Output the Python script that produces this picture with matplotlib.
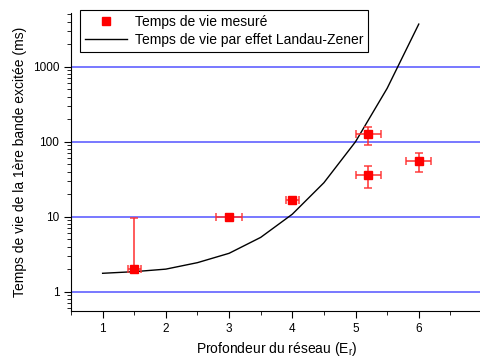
import numpy as np
import matplotlib.pyplot as plt
import matplotlib as mpl

mpl.rcParams.update({
    "font.family": ["Liberation Sans", "DejaVu Sans"],
    "mathtext.fontset": "custom",
    "mathtext.rm": "Liberation Sans",
    "font.size": 9,
})

# ---------- data ----------
depth_meas = [1.5, 3.0, 4.0, 5.2, 5.2, 6.0]
life_meas = [2.0, 10.0, 16.7, 125.0, 36.0, 55.0]
life_err_low = [0.1, 0.8, 1.0, 35.0, 12.0, 16.0]
life_err_high = [7.5, 0.8, 1.0, 30.0, 12.0, 15.0]
depth_err = [0.1, 0.2, 0.1, 0.2, 0.2, 0.2]

depth_lz = [1.0, 1.5, 2.0, 2.5, 3.0, 3.5, 4.0, 4.5, 5.0, 5.5, 6.0]
life_lz = [1.76, 1.85, 2.0, 2.44, 3.25, 5.3, 10.8, 28.4, 100.0, 515.0, 3700.0]

yticks = [1, 10, 100, 1000]
xticks = [1, 2, 3, 4, 5, 6]
# --------------------------

fig = plt.figure(figsize=(4.8, 3.6), dpi=100)
ax = fig.add_axes([71/480, 49/360, 411/480, 298/360])

ax.set_yscale("log")
ax.set_xlim(0.5, 7.0)
ax.set_ylim(0.553, 5200)

for t in yticks:
    ax.axhline(t, color="#7878ff", lw=1.4, zorder=1)

ax.errorbar(depth_meas, life_meas, yerr=[life_err_low, life_err_high], xerr=depth_err,
            fmt="none", ecolor="#ff3030", elinewidth=1.3, capsize=3, capthick=1.2,
            alpha=0.85, zorder=3)
ax.plot(depth_meas, life_meas, "s", color="red", ms=5.5, zorder=4,
        label="Temps de vie mesuré")
ax.plot(depth_lz, life_lz, "-", color="black", lw=1.0, zorder=2,
        label="Temps de vie par effet Landau-Zener")

ax.set_xticks(xticks)
ax.set_xticks(np.arange(0.5, 7.01, 0.5), minor=True)
ax.set_yticks(yticks)
ax.set_yticklabels([str(t) for t in yticks])
ax.tick_params(which="major", direction="out", length=5, labelsize=8.5)
ax.tick_params(which="minor", direction="out", length=3)
ax.tick_params(axis="x", which="minor", labelbottom=False)
ax.yaxis.set_minor_formatter(mpl.ticker.NullFormatter())

for s in ["top", "right"]:
    ax.spines[s].set_visible(False)

ax.set_xlabel("Profondeur du réseau (E$_\\mathregular{r}$)", fontsize=10)
ax.set_ylabel("Temps de vie de la 1ère bande excitée (ms)", fontsize=10)

leg = ax.legend(loc="upper left", bbox_to_anchor=(80/480, 350/360),
                bbox_transform=fig.transFigure, borderaxespad=0, fancybox=False,
                edgecolor="black", fontsize=10, handlelength=3, framealpha=1,
                borderpad=0.35, labelspacing=0.3, handletextpad=0.6)
leg.get_frame().set_linewidth(0.8)

fig.savefig("out.png", dpi=100)
